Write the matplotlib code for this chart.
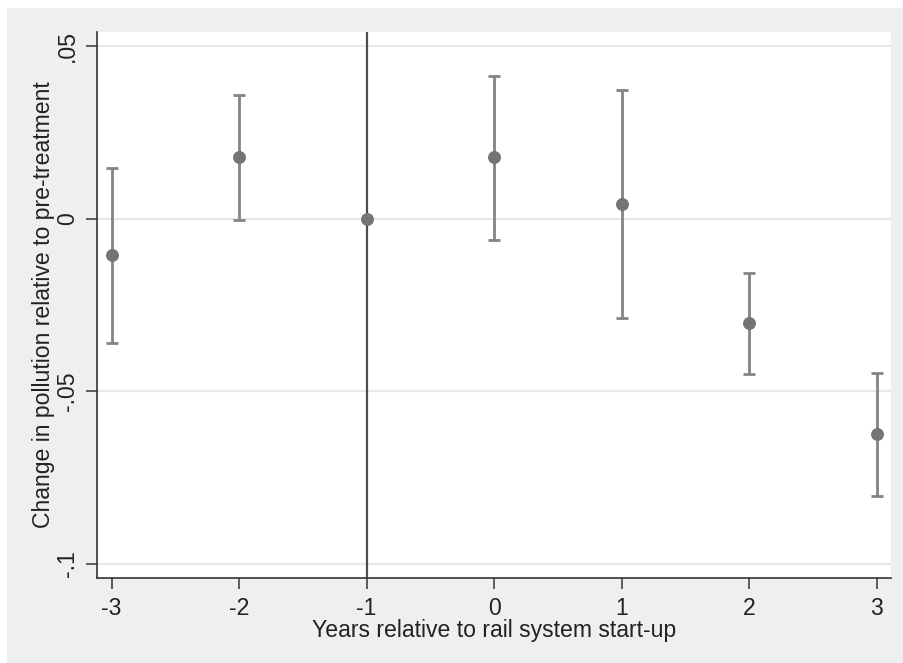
import numpy as np
import matplotlib.pyplot as plt
from matplotlib.patches import Rectangle

plt.rcParams['font.family'] = ['Liberation Sans', 'DejaVu Sans']

# Event-study estimates
years = [-3, -2, -1, 0, 1, 2, 3]
coef = [-0.0107, 0.0178, 0.0, 0.0177, 0.0042, -0.0303, -0.0625]
ci_low = [-0.0360, -0.0004, 0.0, -0.0062, -0.0287, -0.0450, -0.0804]
ci_high = [0.0145, 0.0358, 0.0, 0.0413, 0.0372, -0.0159, -0.0447]

y_ticks = [-0.1, -0.05, 0, 0.05]
y_tick_labels = ['-.1', '-.05', '0', '.05']

coef = np.array(coef)
err = np.vstack([coef - np.array(ci_low), np.array(ci_high) - coef])

fig = plt.figure(figsize=(9.04, 6.63), dpi=100)
fig.patch.set_facecolor('white')
# gray graph region with a thin white margin top/left
fig.add_artist(Rectangle((7 / 904, 0), 1 - 7 / 904, 1 - 8 / 663,
                         transform=fig.transFigure, facecolor='#eeeff1',
                         edgecolor='none', zorder=-10))

ax = fig.add_axes([0.1073, 0.1287, 0.8783, 0.823])
ax.set_facecolor('white')

# Gridlines at y ticks
for yt in y_ticks:
    ax.axhline(yt, color='#e8e8e8', linewidth=1.6, zorder=1)

# Reference line at the omitted year
ax.axvline(-1, color='#4d4d4d', linewidth=1.6, zorder=2)

# Confidence intervals (skip the omitted year)
mask = np.array(ci_high) != np.array(ci_low)
ax.errorbar(np.array(years)[mask], coef[mask], yerr=err[:, mask], fmt='none',
            ecolor='#838388', elinewidth=2.0, capsize=4.3, capthick=2.0, zorder=3)
ax.plot(years, coef, 'o', color='#737378', markersize=8.3, zorder=4)

ax.set_xlim(-3.115, 3.112)
ax.set_ylim(-0.104, 0.054)
ax.set_xticks(years)
ax.set_xticklabels([str(y) for y in years])
ax.set_yticks(y_ticks)
ax.set_yticklabels(y_tick_labels, rotation=90, va='center')

for side in ['top', 'right']:
    ax.spines[side].set_visible(False)
for side in ['left', 'bottom']:
    ax.spines[side].set_color('#333333')
    ax.spines[side].set_linewidth(1.2)

ax.tick_params(axis='both', length=8, width=1.2, color='#444444',
               labelsize=16.6, labelcolor='#222222')
ax.tick_params(axis='x', pad=6)
ax.tick_params(axis='y', pad=5)

ax.set_xlabel('Years relative to rail system start-up', fontsize=16.6,
              color='#222222', labelpad=-1)
ax.set_ylabel('Change in pollution relative to pre-treatment', fontsize=16.6,
              color='#222222', labelpad=0.5)

fig.savefig('out.png', dpi=100)
